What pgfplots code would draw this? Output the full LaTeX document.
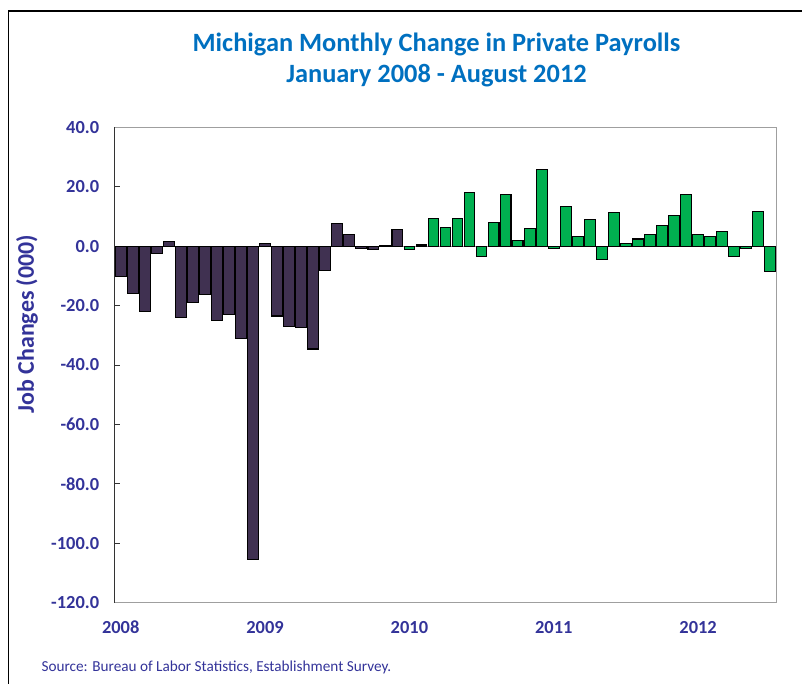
\documentclass[border=0pt]{standalone}
\usepackage{pgfplots}
\pgfplotsset{compat=1.18}
\usepackage{fontspec}
\setmainfont{Carlito}
\definecolor{tickblue}{RGB}{51,51,153}
\definecolor{titleblue}{RGB}{0,112,192}
\definecolor{barpurple}{RGB}{64,49,81}
\definecolor{bargreen}{RGB}{0,176,80}
\begin{document}
\begin{tikzpicture}[x=1bp,y=1bp]
\useasboundingbox (0,0) rectangle (802,-684);
\draw[line width=1.5bp] (8.5,-684) -- (8.5,-11) -- (802,-11);
\node[font=\bfseries\fontsize{26.5}{31}\selectfont, text=titleblue, align=center] at (436.5,-60) {Michigan Monthly Change in Private Payrolls\\January 2008 - August 2012};
\begin{axis}[at={(114.7bp,-602.7bp)}, anchor=south west,
  width=661.6bp, height=475.4bp, scale only axis,
  xmin=-0.5, xmax=54.5, ymin=-120, ymax=40,
  ytick={-120,-100,...,40},
  xtick={0,12,24,36,48},
  xticklabels={2008,2009,2010,2011,2012},
  /pgf/number format/assume math mode=true,
  /pgf/number format/fixed, /pgf/number format/precision=1, /pgf/number format/zerofill,
  yticklabel style={font=\bfseries\fontsize{18.5}{18.5}\selectfont, text=tickblue, xshift=-12bp},
  xticklabel style={font=\bfseries\fontsize{18.5}{18.5}\selectfont, text=tickblue, yshift=-10bp},
  tick align=inside, major tick length=5bp,
  ytick pos=left,
  major x tick style={draw=none},
  major y tick style={black!80, line width=1bp},
  axis line style={draw=gray!75, line width=1.5bp},
  ybar, bar width=0.89, bar shift=0pt,
  clip=false,
]
\draw[gray!80, line width=0.8bp] (axis cs:-0.5,0) -- (axis cs:54.5,0);
\addplot[fill=barpurple, draw=black, line width=1.1bp] coordinates {
(0,-10.1) (1,-15.9) (2,-22.1) (3,-2.5) (4,1.7) (5,-24.1) (6,-19.0) (7,-16.4)
(8,-25.0) (9,-22.9) (10,-31.2) (11,-105.6) (12,0.9) (13,-23.5) (14,-26.9) (15,-27.5)
(16,-34.6) (17,-8.3) (18,7.6) (19,4.0) (20,-0.7) (21,-1.2) (22,0.3) (23,5.5)};
\addplot[fill=bargreen, draw=black, line width=1.1bp] coordinates {
(24,-1.0) (25,0.4) (26,9.3) (27,6.4) (28,9.3) (29,18.2) (30,-3.4) (31,8.0)
(32,17.4) (33,1.9) (34,5.8) (35,25.7) (36,-0.7) (37,13.2) (38,3.4) (39,8.9)
(40,-4.4) (41,11.4) (42,0.8) (43,2.4) (44,3.9) (45,7.0) (46,10.3) (47,17.4)
(48,3.8) (49,3.4) (50,4.8) (51,-3.6) (52,-0.7) (53,11.6) (54,-8.6)};
\draw[black!80, line width=1.5bp] (rel axis cs:0,0) -- (rel axis cs:0,1);
\end{axis}
\node[rotate=90, font=\bfseries\fontsize{24}{24}\selectfont, text=tickblue] at (27,-324) {Job Changes (000)};
\node[anchor=west, font=\fontsize{15.3}{15.3}\selectfont, text=tickblue] at (38,-667) {Source: Bureau of Labor Statistics, Establishment Survey.};
\end{tikzpicture}
\end{document}
